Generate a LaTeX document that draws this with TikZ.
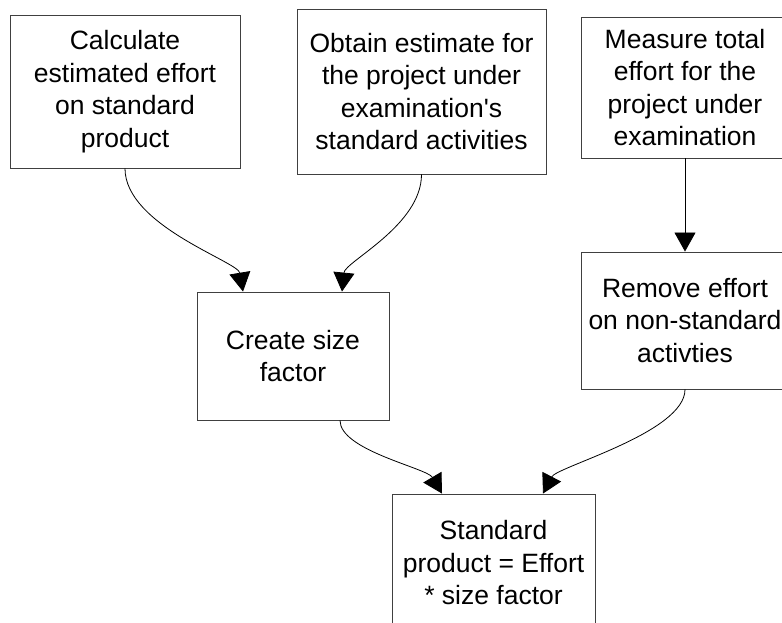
\documentclass[tikz,border=0pt]{standalone}
\usepackage{fontspec}
\setmainfont{Liberation Sans}[Ligatures=TeXOff]
\usetikzlibrary{arrows.meta}
\tikzset{
  procbox/.style={draw=black!75, line width=0.9pt, fill=white, rectangle, inner sep=0pt,
    align=center, font=\fontsize{26.5}{32.5}\selectfont},
  flow/.style={draw=black, line width=0.8pt, -{Triangle[length=19pt,width=21pt]}}
}
\begin{document}
\begin{tikzpicture}[x=1pt,y=-1pt]
\useasboundingbox (0,0) rectangle (782,623);
\clip (0,0) rectangle (782,623);
\node[procbox, minimum width=230pt, minimum height=153pt] (b1) at (125,91.5)
  {Calculate\\estimated effort\\on standard\\product};
\node[procbox, minimum width=249pt, minimum height=165pt] (b2) at (421.5,91.5)
  {Obtain estimate for\\the project under\\examination's\\standard activities};
\node[procbox, minimum width=208pt, minimum height=141pt] (b3) at (685,87.5)
  {Measure total\\effort for the\\project under\\examination};
\node[procbox, minimum width=192pt, minimum height=128pt] (b4) at (293,356)
  {Create size\\factor};
\node[procbox, minimum width=208pt, minimum height=137pt] (b5) at (685,320.5)
  {Remove effort\\on non-standard\\activties};
\node[procbox, minimum width=203pt, minimum height=138pt] (b6) at (493.5,563)
  {Standard\\product = Effort\\* size factor};
\draw[flow] (b1.south) .. controls +(0,57) and +(-5,-30) .. ([xshift=-50pt]b4.north);
\draw[flow] (b2.south) .. controls +(0,51) and +(3,-30) .. ([xshift=49pt]b4.north);
\draw[flow] (b3.south) -- (b5.north);
\draw[flow] ([xshift=47pt]b4.south) .. controls +(0,30) and +(-15,-25.5) .. ([xshift=-51.5pt]b6.north);
\draw[flow] (b5.south) .. controls +(0,43) and +(14,-27) .. ([xshift=49.5pt]b6.north);
\end{tikzpicture}
\end{document}
